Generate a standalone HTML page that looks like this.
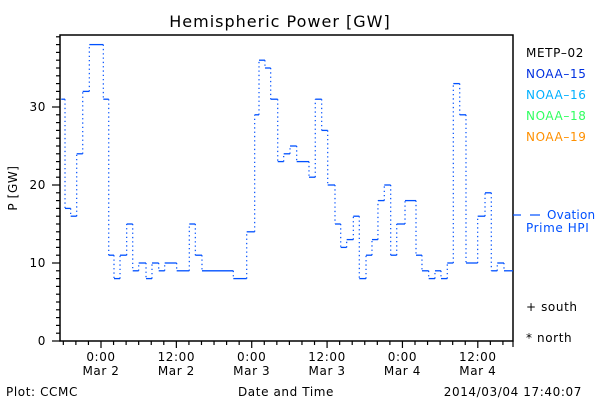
<!DOCTYPE html>
<html><head><meta charset="utf-8"><style>
body{margin:0;background:#fff}
svg text{font-family:"DejaVu Sans","Liberation Sans",sans-serif;font-size:12px;fill:#000;letter-spacing:0.6px}
</style></head><body>
<svg id="chart" width="600" height="400" xmlns="http://www.w3.org/2000/svg">
<rect width="600" height="400" fill="#fff"/>
<text x="280" y="27" text-anchor="middle" style="font-size:16px;letter-spacing:1px">Hemispheric Power [GW]</text>
<rect x="60" y="35" width="453" height="306" fill="none" stroke="#000" stroke-width="1.5"/>
<g id="yaxis"></g>
<g id="xaxis"></g>
<text transform="translate(17,188) rotate(-90)" text-anchor="middle">P [GW]</text>
<text x="286" y="396" text-anchor="middle">Date and Time</text>
<text x="6" y="396">Plot: CCMC</text>
<text x="582" y="396" text-anchor="end">2014/03/04 17:40:07</text>
<g>
<text x="526" y="57" fill="#000">METP–02</text>
<text x="526" y="78" style="fill:#0030e0">NOAA–15</text>
<text x="526" y="99" style="fill:#00b0ff">NOAA–16</text>
<text x="526" y="120" style="fill:#30ff60">NOAA–18</text>
<text x="526" y="141" style="fill:#ff9000">NOAA–19</text>
<line x1="513" y1="215" x2="521" y2="215" stroke="#0050ff" stroke-width="1.2"/>
<line x1="530" y1="215" x2="540" y2="215" stroke="#0050ff" stroke-width="1.2"/>
<text x="547" y="219" style="fill:#0050ff;letter-spacing:0.2px">Ovation</text>
<text x="526" y="232" style="fill:#0050ff">Prime HPI</text>
<text x="526" y="311">+ south</text>
<text x="526" y="342">* north</text>
</g>
<g id="series"></g>
</svg>
<script>
const stepTimes=[-6.33,-5.73,-4.83,-3.87,-2.91,-1.86,0.37,1.23,2.07,3.03,4.09,5.05,6.0,7.17,8.12,9.19,10.14,12.05,14.06,15.02,16.08,21.07,23.2,24.47,25.16,26.11,27.02,28.14,29.09,30.1,31.16,33.12,34.12,35.14,36.1,37.26,38.17,39.12,40.18,41.13,42.2,43.15,44.1,45.11,46.13,47.09,48.41,50.16,51.11,52.18,53.18,54.14,55.14,56.1,57.12,58.12,59.98,61.15,62.15,63.1,64.17];
const stepValues=[31,17,16,24,32,38,31,11,8,11,15,9,10,8,10,9,10,9,15,11,9,8,14,29,36,35,31,23,24,25,23,21,31,27,20,15,12,13,16,8,11,13,18,20,11,15,18,11,9,8,9,8,10,33,29,10,16,19,9,10,9];
const endTime=65.6;
const yTicks=[0,10,20,30];
const xTickHours=[0,12,24,36,48,60];
const xTickLabels=[["0:00","Mar 2"],["12:00","Mar 2"],["0:00","Mar 3"],["12:00","Mar 3"],["0:00","Mar 4"],["12:00","Mar 4"]];
const NS="http://www.w3.org/2000/svg";
const X0=101,PXH=6.28,Y0=341,PXU=7.8;
const xs=h=>X0+h*PXH, ys=v=>Y0-v*PXU;
function mk(tag,attrs,parent){const e=document.createElementNS(NS,tag);for(const k in attrs)e.setAttribute(k,attrs[k]);parent.appendChild(e);return e;}
const ya=document.getElementById('yaxis'),xa=document.getElementById('xaxis'),sg=document.getElementById('series');
for(let v=0;v<=39;v++){const big=v%10===0;const l=mk('line',{x1:60-(big?8:4),x2:60,y1:ys(v),y2:ys(v),stroke:'#000','stroke-width':1.2},ya);

}
yTicks.forEach(v=>{const t=mk('text',{x:46,y:ys(v)+4,'text-anchor':'end'},ya);t.textContent=v;

});
for(let h=-6;h<=65;h+=2){const big=h%12===0;const l=mk('line',{x1:xs(h),x2:xs(h),y1:341,y2:341+(big?7:4),stroke:'#000','stroke-width':1.2},xa);

}
xTickHours.forEach((h,i)=>{const t=mk('text',{x:xs(h),y:361,'text-anchor':'middle'},xa);t.textContent=xTickLabels[i][0];


const t2=mk('text',{x:xs(h),y:375,'text-anchor':'middle'},xa);t2.textContent=xTickLabels[i][1];

});
mk('line',{x1:513,x2:513,y1:341,y2:347,stroke:'#000','stroke-width':1.2},xa);
for(let i=0;i<stepValues.length;i++){
 const t0=stepTimes[i],t1=i+1<stepTimes.length?stepTimes[i+1]:endTime;
 const h=mk('line',{x1:xs(t0),x2:xs(t1),y1:ys(stepValues[i]),y2:ys(stepValues[i]),stroke:'#0050ff','stroke-width':1.3},sg);
 
 
 if(i+1<stepValues.length){const v=mk('line',{x1:xs(t1),x2:xs(t1),y1:ys(stepValues[i]),y2:ys(stepValues[i+1]),stroke:'#0050ff','stroke-width':1.2,'stroke-dasharray':'1.3,3'},sg);
 
 }
}
</script>
</body></html>
